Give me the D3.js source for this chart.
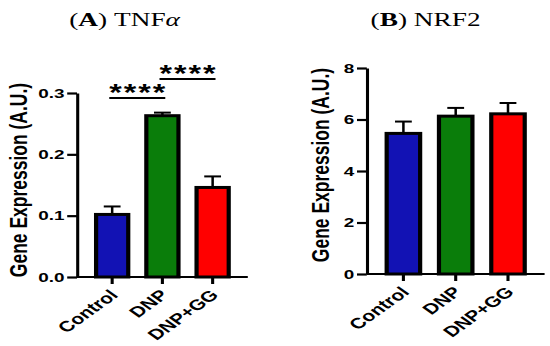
<!DOCTYPE html>
<html lang="en">
<head>
<meta charset="UTF-8">
<title>TNFa and NRF2 gene expression</title>
<script src="https://d3js.org/d3.v7.min.js"></script>
<style>
    body { margin: 0; background: #fff; }
    svg { display: block; }
    .axis text { font-family: "Liberation Sans", Arial, sans-serif; font-weight: bold; fill: #000; }
    .axis path, .axis line { stroke: #000; stroke-width: 2.2; }
    .ylab { font-family: "Liberation Sans", Arial, sans-serif; font-size: 17.5px; font-weight: bold; }
    .title { font-family: "Palatino Linotype", "Book Antiqua", "Liberation Serif", serif; font-size: 19.5px; }
    .stars { font-family: "Liberation Sans", Arial, sans-serif; font-weight: bold; font-size: 23px; }
</style>
</head>
<body>
<script>
    // groups and values
    const groups = ["Control", "DNP", "DNP+GG"];
    const colors = ["#1212b4", "#0a7d0a", "#ff0000"];

    const tnfMean = [0.102, 0.263, 0.146];
    const tnfErr = [0.013, 0.005, 0.018];
    const tnfTicks = [0, 0.1, 0.2, 0.3];

    const nrfMean = [5.46, 6.13, 6.22];
    const nrfErr = [0.46, 0.32, 0.42];
    const nrfTicks = [0, 2, 4, 6, 8];

    // significance brackets (panel A only)
    const sigFrom = ["Control", "DNP"];
    const sigTo = ["DNP", "DNP+GG"];
    const sigY = [0.292, 0.323];
    const sigLabel = ["****", "****"];

    const W = 550, H = 346;
    const SX = 1.4; // the original figure is stretched sideways

    const svg = d3.select("body").append("svg")
        .attr("width", W)
        .attr("height", H);

    const root = svg.append("g").attr("transform", `scale(${SX},1)`);

    function panel(opts) {
        const g = root.append("g");

        const x = d3.scaleBand()
            .domain(groups)
            .range([opts.left, opts.right])
            .paddingInner(0.36)
            .paddingOuter(0.38);

        const y = d3.scaleLinear()
            .domain(opts.domain)
            .range([opts.bottom, opts.top]);

        // bars
        g.selectAll("rect.bar")
            .data(groups)
            .join("rect")
            .attr("class", "bar")
            .attr("x", d => x(d))
            .attr("width", x.bandwidth())
            .attr("y", (d, i) => y(opts.mean[i]))
            .attr("height", (d, i) => y(0) - y(opts.mean[i]))
            .attr("fill", (d, i) => colors[i])
            .attr("stroke", "#000")
            .attr("stroke-width", 3);

        // error bars (upper whisker)
        const eb = g.selectAll("g.err")
            .data(groups)
            .join("g")
            .attr("class", "err");
        eb.append("line")
            .attr("x1", d => x(d) + x.bandwidth() / 2)
            .attr("x2", d => x(d) + x.bandwidth() / 2)
            .attr("y1", (d, i) => y(opts.mean[i]))
            .attr("y2", (d, i) => y(opts.mean[i] + opts.err[i]))
            .attr("stroke", "#000")
            .attr("stroke-width", 1.8);
        eb.append("line")
            .attr("x1", d => x(d) + x.bandwidth() / 2 - 6)
            .attr("x2", d => x(d) + x.bandwidth() / 2 + 6)
            .attr("y1", (d, i) => y(opts.mean[i] + opts.err[i]))
            .attr("y2", (d, i) => y(opts.mean[i] + opts.err[i]))
            .attr("stroke", "#000")
            .attr("stroke-width", 2);

        // y axis
        const ya = g.append("g")
            .attr("class", "axis")
            .attr("transform", `translate(${opts.left},0)`)
            .call(d3.axisLeft(y).tickValues(opts.ticks).tickFormat(d3.format(opts.fmt))
                .tickSize(7).tickSizeOuter(0).tickPadding(2));
        ya.selectAll("text").style("font-size", "13.5px");

        // x axis
        const xa = g.append("g")
            .attr("class", "axis")
            .attr("transform", `translate(0,${opts.bottom})`)
            .call(d3.axisBottom(x).tickSize(7).tickSizeOuter(0));
        xa.select(".domain").attr("d", `M${opts.left},0H${opts.xEnd}`);
        xa.selectAll("text")
            .style("font-size", "15px")
            .attr("text-anchor", "end")
            .attr("dy", null)
            .attr("y", null)
            .attr("transform", "translate(5,19) rotate(-45)");

        // y label
        g.append("text")
            .attr("class", "ylab")
            .attr("transform", `translate(${opts.ylabX},${opts.ylabY}) rotate(-90)`)
            .attr("text-anchor", "middle")
            .text("Gene Expression (A.U.)");

        // title
        const t = g.append("text")
            .attr("class", "title")
            .attr("x", opts.titleX)
            .attr("y", 26)
            .attr("text-anchor", "middle");
        t.append("tspan").text("(");
        t.append("tspan").attr("font-weight", "bold").text(opts.letter);
        t.append("tspan").text(") ");
        t.append("tspan").text(opts.name);
        if (opts.greek) t.append("tspan").attr("font-style", "italic").text(opts.greek);

        return { g, x, y };
    }

    const A = panel({
        left: 55, right: 177, xEnd: 177, top: 93, bottom: 277,
        domain: [0, 0.3], ticks: tnfTicks, fmt: ".1f",
        mean: tnfMean, err: tnfErr,
        ylabX: 19, ylabY: 180, titleX: 89,
        letter: "A", name: "TNF", greek: "\u03b1"
    });

    const B = panel({
        left: 262, right: 389, xEnd: 389, top: 68, bottom: 274,
        domain: [0, 8], ticks: nrfTicks, fmt: "d",
        mean: nrfMean, err: nrfErr,
        ylabX: 235, ylabY: 165, titleX: 304,
        letter: "B", name: "NRF2"
    });

    // significance bars
    sigFrom.forEach((f, i) => {
        const c1 = A.x(f) + A.x.bandwidth() / 2;
        const c2 = A.x(sigTo[i]) + A.x.bandwidth() / 2;
        const mid = (c1 + c2) / 2;
        const yy = A.y(sigY[i]);
        A.g.append("line")
            .attr("x1", mid - 20).attr("x2", mid + 20)
            .attr("y1", yy).attr("y2", yy)
            .attr("stroke", "#000").attr("stroke-width", 2);
        A.g.append("text")
            .attr("class", "stars")
            .attr("x", mid - 20)
            .attr("y", yy + 3)
            .attr("textLength", 40)
            .attr("lengthAdjust", "spacing")
            .text(sigLabel[i]);
    });
</script>
</body>
</html>
